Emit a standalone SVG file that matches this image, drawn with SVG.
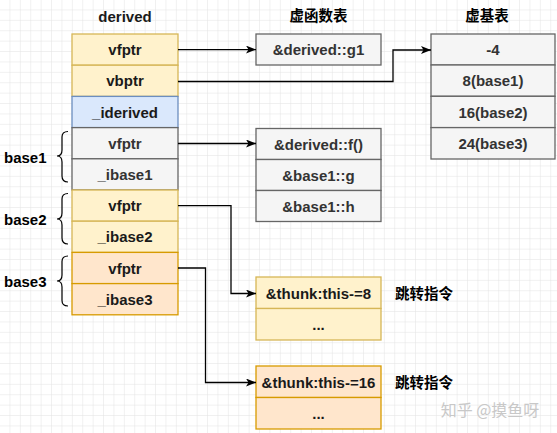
<svg xmlns="http://www.w3.org/2000/svg" width="557" height="433" viewBox="0 0 557 433">
<defs>
<pattern id="grid" width="10.4" height="10.4" patternUnits="userSpaceOnUse">
<path d="M10.4 0 V10.4 M0 10.4 H10.4" fill="none" stroke="#e2e2e2" stroke-width="1"/>
</pattern>
<marker id="arr" markerWidth="10" markerHeight="8" refX="10" refY="4" orient="auto" markerUnits="userSpaceOnUse">
<path d="M0 0 L10 4 L0 8 L2.5 4 Z" fill="#000"/>
</marker>
<style>
.t{font-family:"Liberation Sans",Arial,sans-serif;font-weight:bold;font-size:15px;text-anchor:middle;dominant-baseline:central;fill:#1a1a1a}
.g{fill:#333}
.cjk{font-family:"Liberation Sans","Noto Sans CJK SC",sans-serif;font-weight:bold;font-size:14.5px;fill:#000}
.lbl{font-family:"Liberation Sans",Arial,sans-serif;font-weight:bold;font-size:15px;fill:#000;dominant-baseline:central}
.yel{fill:#fff2cc;stroke:#d6b656;stroke-width:1.3}
.blu{fill:#dae8fc;stroke:#6c8ebf;stroke-width:1.3}
.gry{fill:#f5f5f5;stroke:#666666;stroke-width:1.3}
.org{fill:#ffe6cc;stroke:#d79b00;stroke-width:1.3}
.con{fill:none;stroke:#000;stroke-width:1.3}
.br{fill:none;stroke:#000;stroke-width:1.2}
</style>
</defs>
<rect width="557" height="433" fill="#fff"/>
<rect width="557" height="433" fill="url(#grid)"/>

<g id="titles">
<text class="t" x="125" y="16" fill="#000">derived</text>
<text class="cjk" x="318.5" y="21" text-anchor="middle">虚函数表</text>
<text class="cjk" x="487" y="21" text-anchor="middle">虚基表</text>
</g>

<g id="derived">
<rect class="yel" x="72" y="34" width="106" height="31.2"/>
<text class="t" x="125" y="49.6">vfptr</text>
<rect class="yel" x="72" y="65.2" width="106" height="31.2"/>
<text class="t" x="125" y="80.8">vbptr</text>
<rect class="blu" x="72" y="96.4" width="106" height="31.2"/>
<text class="t" x="125" y="112">_iderived</text>
<rect class="gry" x="72" y="127.6" width="106" height="31.2"/>
<text class="t g" x="125" y="143.2">vfptr</text>
<rect class="gry" x="72" y="158.8" width="106" height="31.2"/>
<text class="t g" x="125" y="174.4">_ibase1</text>
<rect class="yel" x="72" y="190" width="106" height="31.2"/>
<text class="t" x="125" y="205.6">vfptr</text>
<rect class="yel" x="72" y="221.2" width="106" height="31.2"/>
<text class="t" x="125" y="236.8">_ibase2</text>
<rect class="org" x="72" y="252.4" width="106" height="31.2"/>
<text class="t" x="125" y="268">vfptr</text>
<rect class="org" x="72" y="283.6" width="106" height="31.2"/>
<text class="t" x="125" y="299.2">_ibase3</text>
</g>

<g id="braces">
<path class="br" d="M68 131.5 Q62 131.5 62 137 V150 Q62 156 57 156 Q62 156 62 162 V176 Q62 182 68 182"/>
<text class="lbl" x="4" y="157">base1</text>
<path class="br" d="M68 193.5 Q62 193.5 62 199 V213 Q62 219 57 219 Q62 219 62 225 V238 Q62 244 68 244"/>
<text class="lbl" x="4" y="219.5">base2</text>
<path class="br" d="M68 256 Q62 256 62 261.5 V275 Q62 281 57 281 Q62 281 62 287 V300.5 Q62 306 68 306"/>
<text class="lbl" x="4" y="281.5">base3</text>
</g>

<g id="vtable1">
<rect class="gry" x="256" y="34" width="125" height="31"/>
<text class="t g" x="318.5" y="49.5">&amp;derived::g1</text>
</g>

<g id="vtable2">
<rect class="gry" x="256" y="128.5" width="125" height="31"/>
<text class="t g" x="318.5" y="144">&amp;derived::f()</text>
<rect class="gry" x="256" y="159.5" width="125" height="31"/>
<text class="t g" x="318.5" y="175">&amp;base1::g</text>
<rect class="gry" x="256" y="190.5" width="125" height="31"/>
<text class="t g" x="318.5" y="206">&amp;base1::h</text>
</g>

<g id="vbtable">
<rect class="gry" x="431" y="34" width="124" height="31"/>
<text class="t g" x="493" y="49.5">-4</text>
<rect class="gry" x="431" y="65" width="124" height="31.3"/>
<text class="t g" x="493" y="80.7">8(base1)</text>
<rect class="gry" x="431" y="96.3" width="124" height="31.3"/>
<text class="t g" x="493" y="112">16(base2)</text>
<rect class="gry" x="431" y="127.6" width="124" height="31.4"/>
<text class="t g" x="493" y="143.3">24(base3)</text>
</g>

<g id="thunk1">
<rect class="yel" x="256" y="277" width="125" height="31.5"/>
<text class="t" x="318.5" y="293">&amp;thunk:this-=8</text>
<rect class="yel" x="256" y="308.5" width="125" height="31.5"/>
<text class="t" x="318.5" y="324">...</text>
<text class="cjk" x="395" y="298.5">跳转指令</text>
</g>

<g id="thunk2">
<rect class="org" x="256" y="366" width="125" height="31.5"/>
<text class="t" x="318.5" y="382">&amp;thunk:this-=16</text>
<rect class="org" x="256" y="397.5" width="125" height="31.5"/>
<text class="t" x="318.5" y="413">...</text>
<text class="cjk" x="395" y="387.5">跳转指令</text>
</g>

<g id="connectors">
<path class="con" d="M178 49.6 H256" marker-end="url(#arr)"/>
<path class="con" d="M178 81.5 H393 V50 H431" marker-end="url(#arr)"/>
<path class="con" d="M178 143.5 H256" marker-end="url(#arr)"/>
<path class="con" d="M178 205.6 H231 V293.5 H256" marker-end="url(#arr)"/>
<path class="con" d="M178 268 H205.5 V382.5 H256" marker-end="url(#arr)"/>
</g>

<text x="490" y="416" font-family="'Noto Sans CJK SC',sans-serif" font-size="16" fill="#c8c8c8" text-anchor="middle">知乎 @摸鱼呀</text>
</svg>
